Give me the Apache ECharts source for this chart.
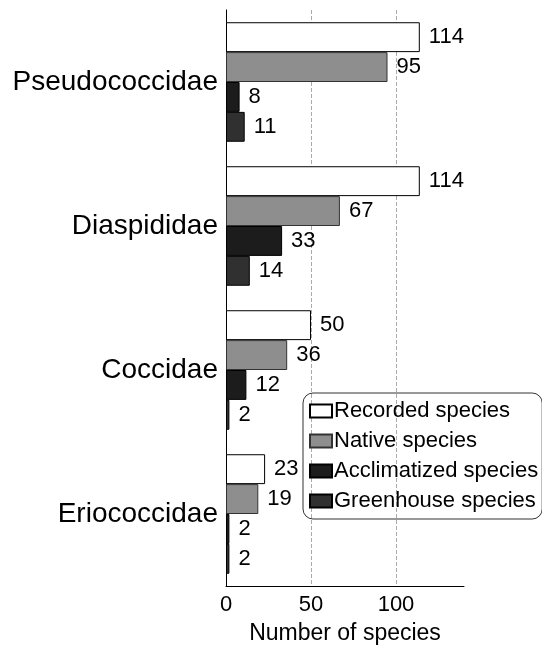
<!DOCTYPE html>
<html>
<head>
<meta charset="utf-8">
<script src="https://cdn.jsdelivr.net/npm/echarts@6/dist/echarts.min.js"></script>
<style>html,body{margin:0;padding:0;background:#fff;}#c{width:542px;height:650px;}</style>
</head>
<body>
<div id="c"></div>
<script>
const categories = ['Pseudococcidae', 'Diaspididae', 'Coccidae', 'Eriococcidae'];
const seriesNames = ['Recorded species', 'Native species', 'Acclimatized species', 'Greenhouse species'];
const recorded = [114, 114, 50, 23];
const native = [95, 67, 36, 19];
const acclimatized = [8, 33, 12, 2];
const greenhouse = [11, 14, 2, 2];
const xTicks = [0, 50, 100];

const FONT = '"Liberation Sans", Arial, sans-serif';
const fills = ['#ffffff', '#8e8e8e', '#1c1c1c', '#303030'];
const borders = ['#000', '#333', '#000', '#000'];
const values = [recorded, native, acclimatized, greenhouse];

const chart = echarts.init(document.getElementById('c'));
chart.setOption({
  animation: false,
  backgroundColor: '#fff',
  textStyle: { fontFamily: FONT },
  grid: { left: 226, top: 10, width: 238, height: 580, containLabel: false },
  legend: {
    orient: 'vertical',
    left: 303, top: 393,
    data: seriesNames,
    icon: 'rect',
    itemWidth: 22, itemHeight: 13, itemGap: 8,
    padding: [7, 4, 7, 6],
    borderColor: '#333', borderWidth: 1, borderRadius: 10,
    textStyle: { fontSize: 22, color: '#000', fontFamily: FONT, padding: [0, 0, 0, -3] },
    selectedMode: false
  },
  xAxis: {
    type: 'value', min: 0, max: 140, interval: 50,
    name: 'Number of species', nameLocation: 'middle', nameGap: 36,
    nameTextStyle: { fontSize: 23, color: '#000', fontFamily: FONT },
    axisLine: { show: true, lineStyle: { color: '#000', width: 1 } },
    axisTick: { show: false },
    axisLabel: { fontSize: 22, color: '#000', margin: 8, fontFamily: FONT,
      formatter: v => xTicks.includes(v) ? String(v) : '' },
    splitLine: { show: true, showMinLine: false, showMaxLine: false,
      lineStyle: { color: '#aaa', type: 'dashed', width: 1 } }
  },
  yAxis: {
    type: 'category', data: categories, inverse: true,
    axisLine: { show: true, lineStyle: { color: '#000', width: 1 } },
    axisTick: { show: false },
    axisLabel: { fontSize: 28, color: '#000', margin: 8, fontFamily: FONT }
  },
  series: seriesNames.map((name, i) => ({
    name, type: 'bar', data: values[i],
    barGap: '0%', barCategoryGap: '17%',
    itemStyle: { color: fills[i], borderColor: borders[i], borderWidth: 1 },
    label: { show: true, position: 'right', distance: 9, fontSize: 22, color: '#000', fontFamily: FONT }
  }))
});
</script>
</body>
</html>
